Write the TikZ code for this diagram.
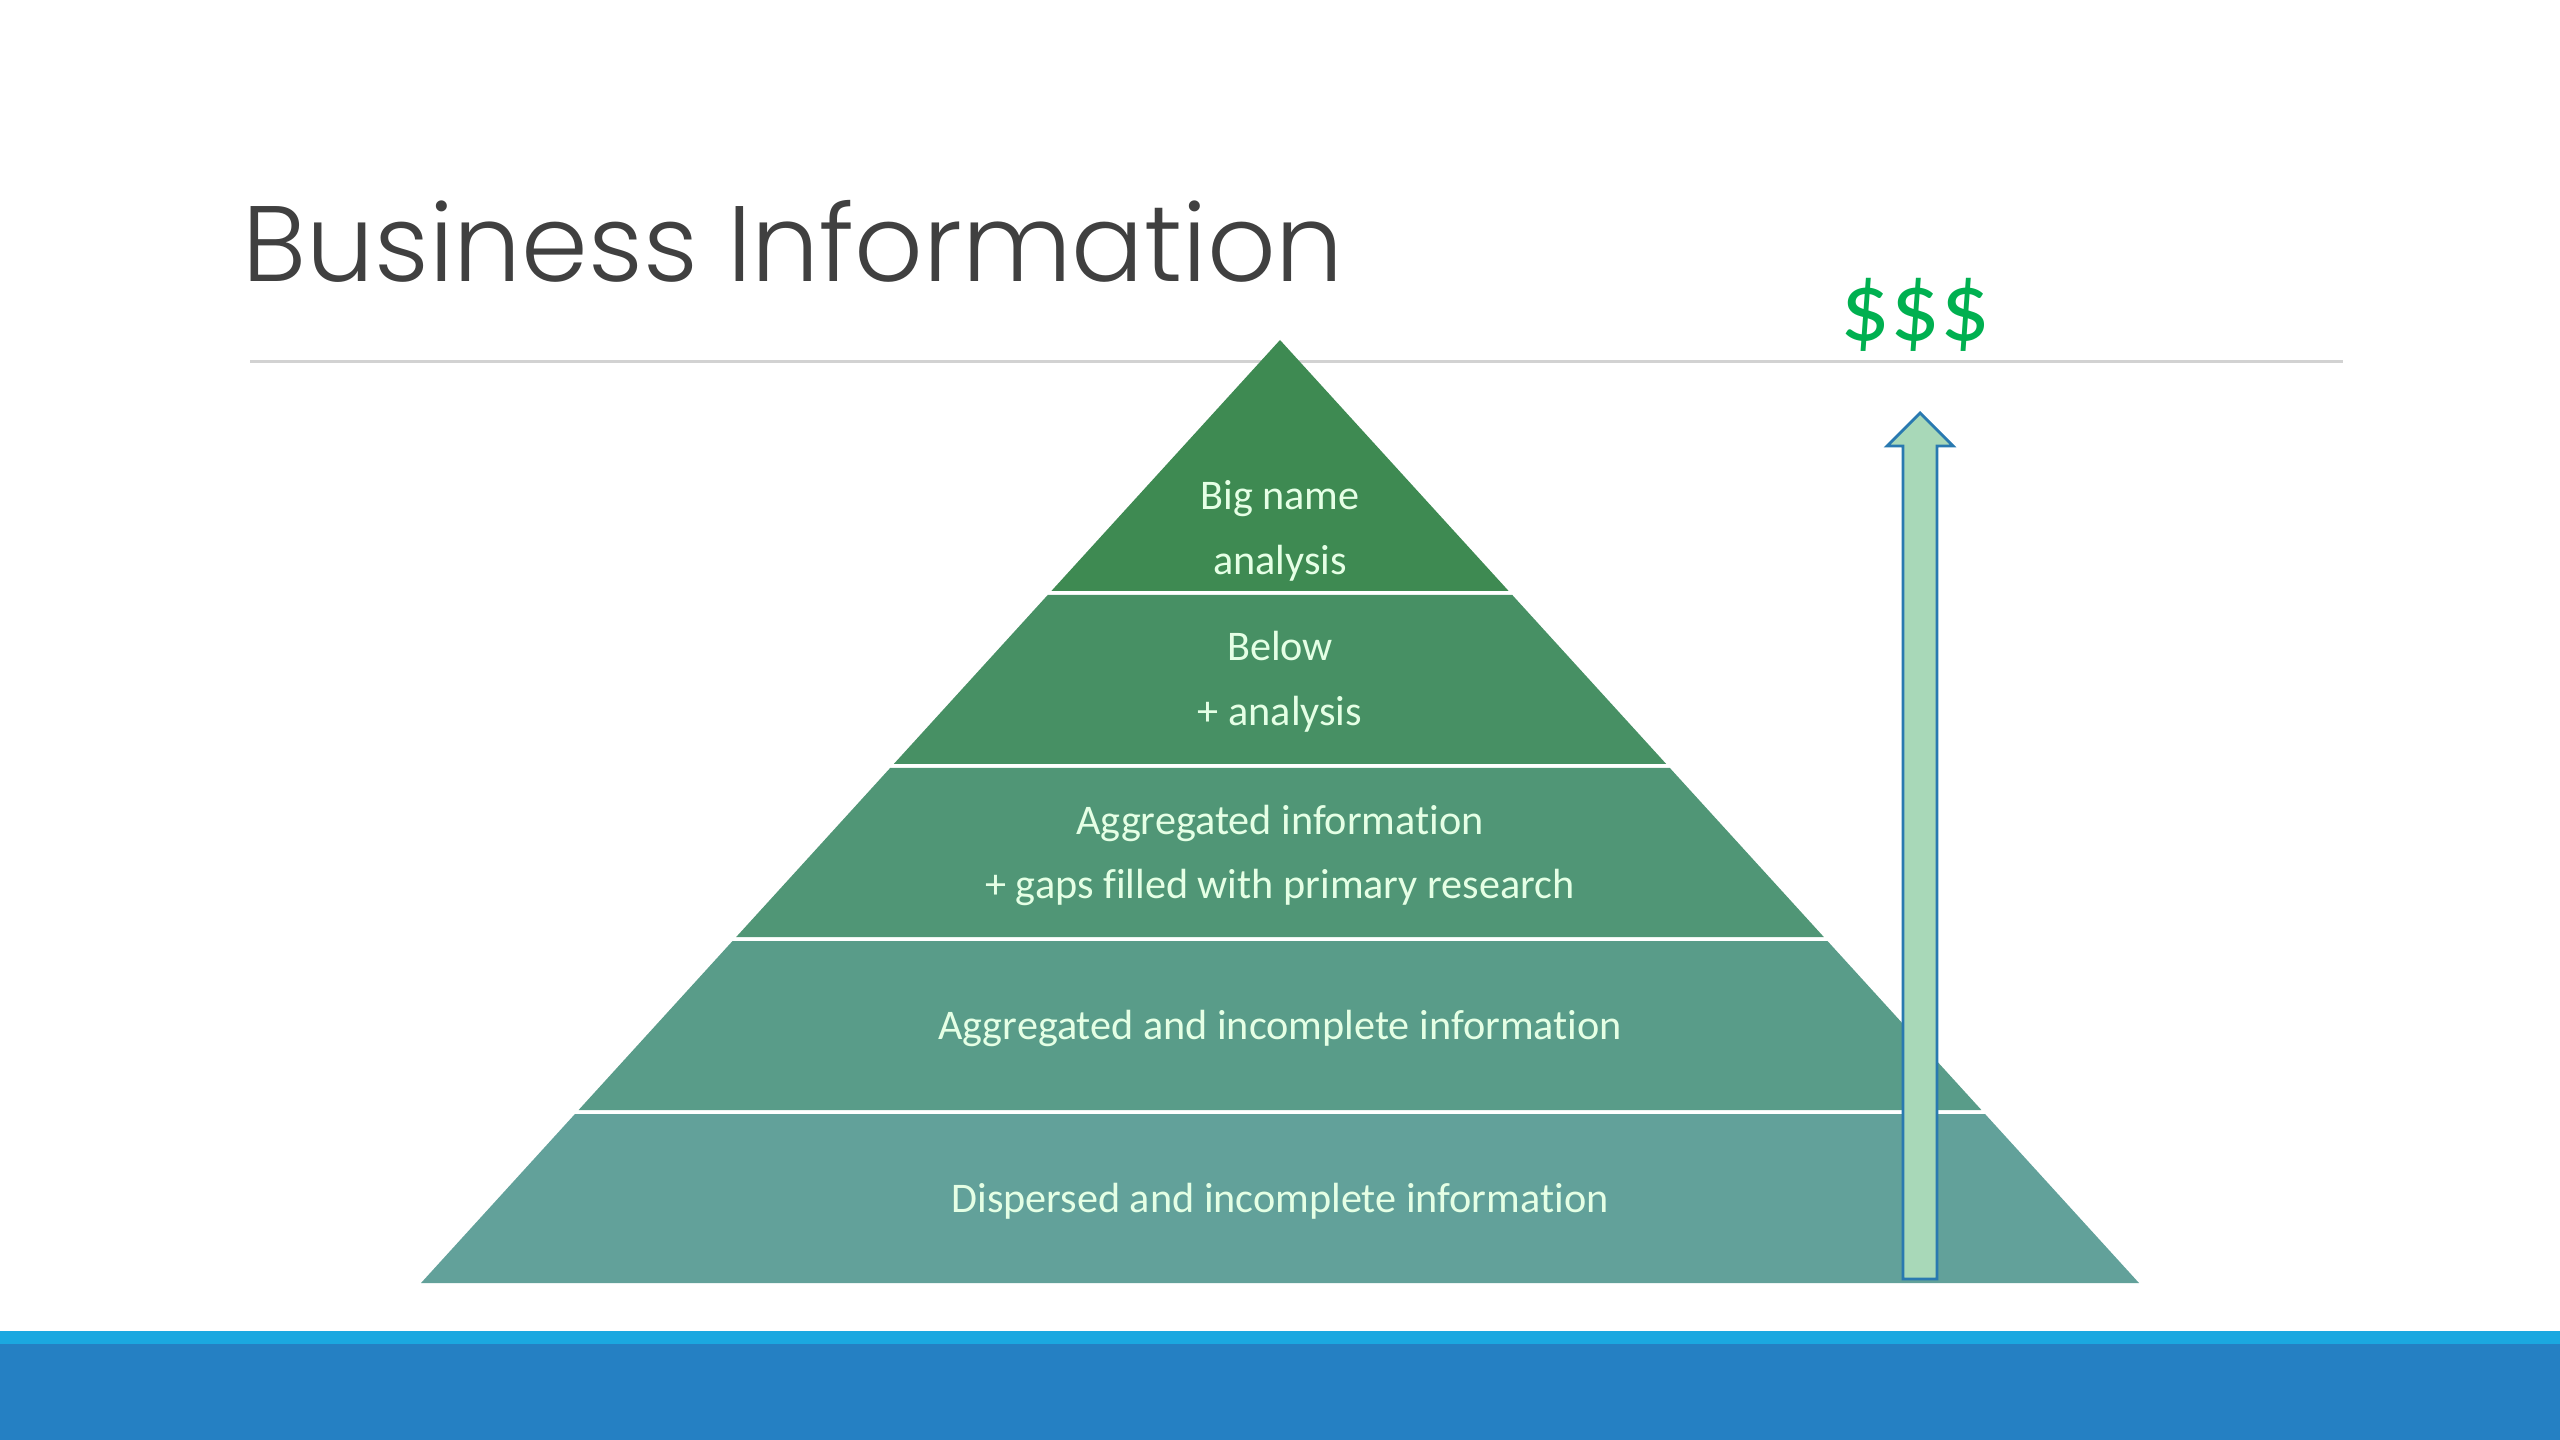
\documentclass[tikz,border=0pt]{standalone}
\usepackage{fontspec}
\setmainfont{Carlito}[Ligatures=CommonOff]
\newfontfamily\titlefont{Poppins Light}
\usetikzlibrary{positioning}
\definecolor{bandA}{RGB}{62,138,82}
\definecolor{bandB}{RGB}{71,144,100}
\definecolor{bandC}{RGB}{80,150,118}
\definecolor{bandD}{RGB}{89,156,137}
\definecolor{bandE}{RGB}{98,161,154}
\definecolor{barlight}{RGB}{27,168,224}
\definecolor{bardark}{RGB}{37,128,195}
\definecolor{rulegray}{RGB}{210,210,210}
\definecolor{titlegray}{RGB}{64,64,64}
\definecolor{moneygreen}{RGB}{0,176,80}
\definecolor{arrowfill}{RGB}{168,216,184}
\definecolor{arrowline}{RGB}{41,121,176}
\tikzset{
  every picture/.style={line join=round},
  bandtext/.style={inner sep=0pt, anchor=base, text=white!90!green, font=\fontsize{12}{15}\selectfont},
}

\begin{document}
\begin{tikzpicture}[x=0.01cm,y=-0.01cm]
\useasboundingbox (0,0) rectangle (2560,1440);
\fill[barlight](0,1331) rectangle (2560,1344);
\fill[bardark](0,1344) rectangle (2560,1440);
\draw[rulegray,line width=0.85pt](250,362)--(2343,362);
\node[anchor=base west,inner sep=0pt,text=titlegray,font=\titlefont\fontsize{30.5}{36}\selectfont](title) at (242,282){Business Information};
\foreach \ya/\yb/\col in {340/591/bandA,595/764/bandB,768/937/bandC,941/1110/bandD,1114/1283/bandE}
  \fill[\col]({1280-(\ya-340)*0.9109},\ya)--({1280+(\ya-340)*0.9109},\ya)--({1280+(\yb-340)*0.9109},\yb)--({1280-(\yb-340)*0.9109},\yb)--cycle;
\foreach \name/\y/\txt in {bigname/510/Big name,bigana/575/analysis,below/661/Below,belowana/726/+ analysis,aggr/834/Aggregated information,gaps/899/+ gaps filled with primary research,aggrinc/1039/Aggregated and incomplete information,disp/1212/Dispersed and incomplete information}
  \node[bandtext](\name) at (1280,\y){\txt};
\filldraw[fill=arrowfill,draw=arrowline,line width=0.8pt,line join=miter](1903,1279)--(1903,446)--(1887,446)--(1920,413)--(1953,446)--(1937,446)--(1937,1279)--cycle;
\node[anchor=base,inner sep=0pt,text=moneygreen,font=\fontsize{28}{30}\selectfont](money) at (1915,341){\$\$\$};
\end{tikzpicture}
\end{document}
